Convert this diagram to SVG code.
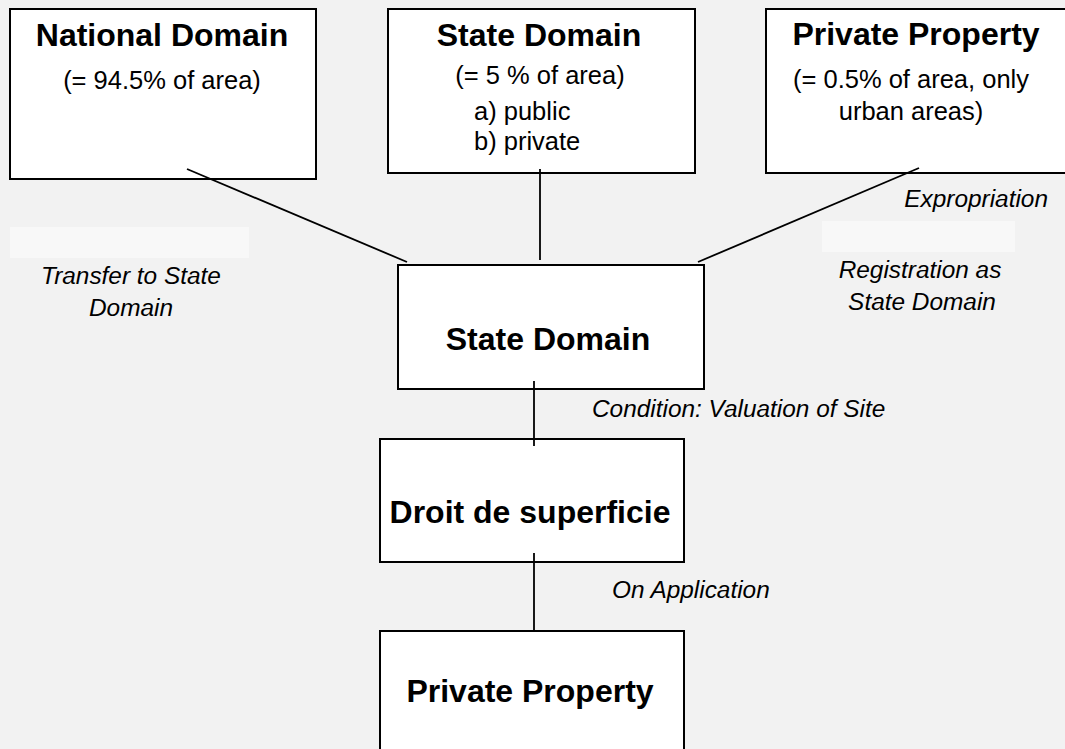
<svg xmlns="http://www.w3.org/2000/svg" width="1065" height="749" viewBox="0 0 1065 749">
<style>
.box{fill:#fff;stroke:#000;stroke-width:2}
.t{font-family:"Liberation Sans",Arial,sans-serif;font-weight:bold;font-size:32px;fill:#000;text-anchor:middle}
.n{font-family:"Liberation Sans",Arial,sans-serif;font-size:25.5px;fill:#000}
.i{font-family:"Liberation Sans",Arial,sans-serif;font-style:italic;font-size:24.4px;fill:#000}
.c{stroke:#000;stroke-width:1.8;fill:none}
.pale{fill:#f8f8f8}
</style>
<rect x="0" y="0" width="1065" height="749" fill="#f2f2f2"/>
<g id="national-domain">
<rect class="box" x="10" y="9" width="306" height="170"/>
<text class="t" x="162" y="46">National Domain</text>
<text class="n" x="162" y="89" text-anchor="middle">(= 94.5% of area)</text>
</g>
<g id="state-domain-top">
<rect class="box" x="388" y="9" width="307" height="164"/>
<text class="t" x="539" y="46">State Domain</text>
<text class="n" x="540" y="84" text-anchor="middle">(= 5 % of area)</text>
<text class="n" x="474" y="120">a) public</text>
<text class="n" x="474" y="150">b) private</text>
</g>
<g id="private-property-top">
<rect class="box" x="766" y="9" width="312" height="164"/>
<text class="t" x="916" y="45">Private Property</text>
<text class="n" x="911" y="88" text-anchor="middle">(= 0.5% of area, only</text>
<text class="n" x="911" y="120" text-anchor="middle">urban areas)</text>
</g>
<g id="state-domain">
<rect class="box" x="398" y="265" width="306" height="124"/>
<text class="t" x="548" y="350">State Domain</text>
</g>
<g id="droit-de-superficie">
<rect class="box" x="380" y="439" width="304" height="123"/>
<text class="t" x="530" y="523">Droit de superficie</text>
</g>
<g id="private-property">
<rect class="box" x="380" y="631" width="304" height="140"/>
<text class="t" x="530" y="702">Private Property</text>
</g>
<g id="connectors">
<line class="c" x1="187" y1="169" x2="407" y2="262"/>
<line class="c" x1="540" y1="169" x2="540" y2="260"/>
<line class="c" x1="919" y1="168" x2="698" y2="262"/>
<line class="c" x1="534" y1="381" x2="534" y2="446"/>
<line class="c" x1="534" y1="553" x2="534" y2="631"/>
</g>
<g id="labels">
<rect class="pale" x="10" y="227" width="239" height="31"/>
<rect class="pale" x="822" y="221" width="193" height="31"/>
<text class="i" x="1048" y="207" text-anchor="end">Expropriation</text>
<text class="i" x="131" y="284" text-anchor="middle" font-size="26">Transfer to State</text>
<text class="i" x="131" y="316" text-anchor="middle" font-size="26">Domain</text>
<text class="i" x="920" y="278" text-anchor="middle" font-size="26">Registration as</text>
<text class="i" x="922" y="310" text-anchor="middle" font-size="26">State Domain</text>
<text class="i" x="592" y="417">Condition: Valuation of Site</text>
<text class="i" x="612" y="598">On Application</text>
</g>
</svg>
